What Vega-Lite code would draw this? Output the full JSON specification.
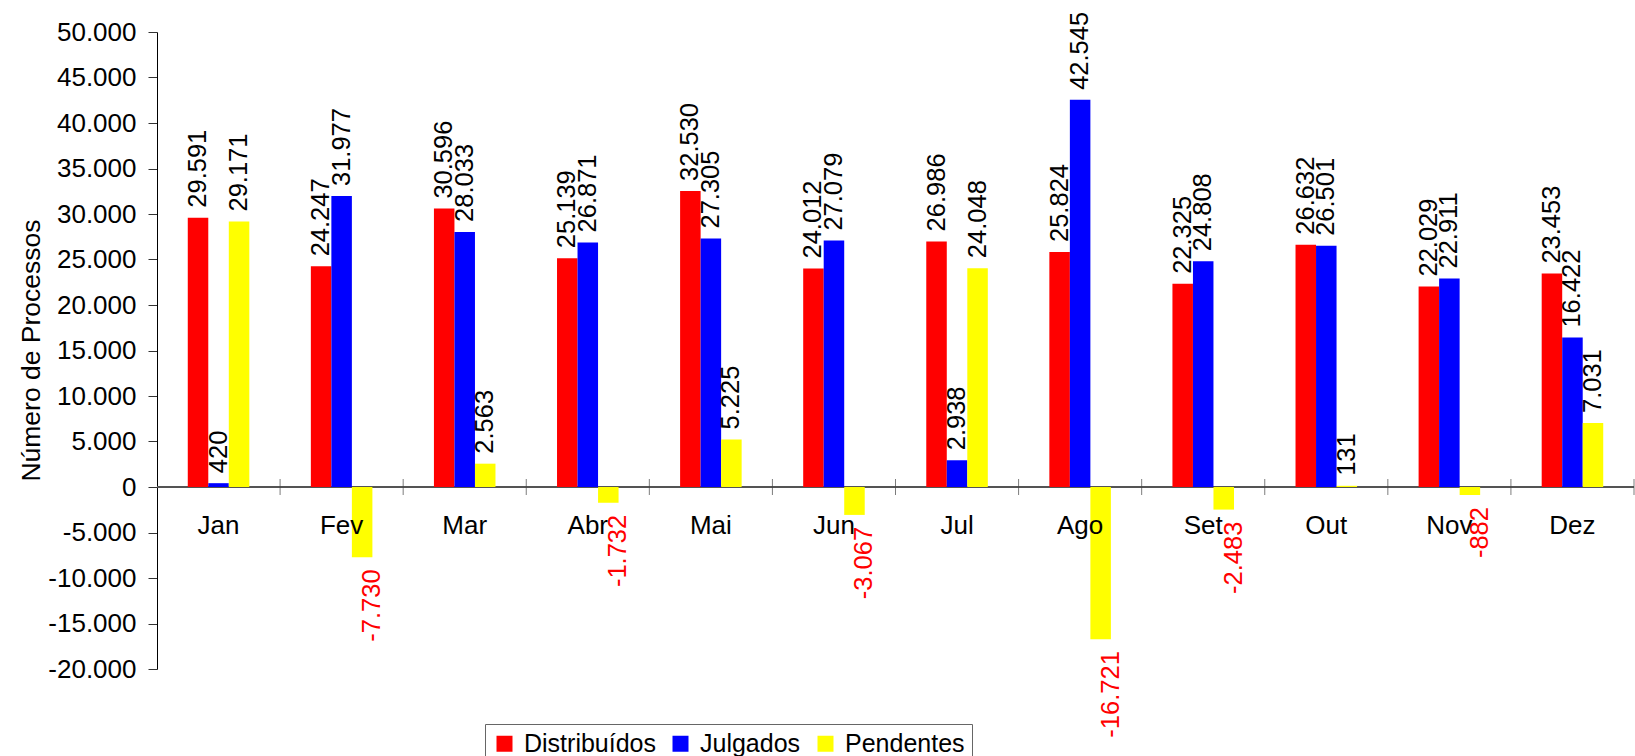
{
  "$schema": "https://vega.github.io/schema/vega-lite/v6.json",
  "width": 1477,
  "height": 637,
  "autosize": {"type": "none"},
  "padding": {"left": 157, "top": 32, "right": 1, "bottom": 87},
  "background": "white",
  "config": {
    "font": "Liberation Sans",
    "view": {"stroke": null},
    "locale": {"number": {"decimal": ",", "thousands": ".", "grouping": [3], "currency": ["", ""], "minus": "-"}}
  },
  "data": {
    "values": [
      {"month": "Jan", "series": "Distribuídos", "value": 29591},
      {"month": "Jan", "series": "Julgados", "value": 420},
      {"month": "Jan", "series": "Pendentes", "value": 29171},
      {"month": "Fev", "series": "Distribuídos", "value": 24247},
      {"month": "Fev", "series": "Julgados", "value": 31977},
      {"month": "Fev", "series": "Pendentes", "value": -7730},
      {"month": "Mar", "series": "Distribuídos", "value": 30596},
      {"month": "Mar", "series": "Julgados", "value": 28033},
      {"month": "Mar", "series": "Pendentes", "value": 2563},
      {"month": "Abr", "series": "Distribuídos", "value": 25139},
      {"month": "Abr", "series": "Julgados", "value": 26871},
      {"month": "Abr", "series": "Pendentes", "value": -1732},
      {"month": "Mai", "series": "Distribuídos", "value": 32530},
      {"month": "Mai", "series": "Julgados", "value": 27305},
      {"month": "Mai", "series": "Pendentes", "value": 5225},
      {"month": "Jun", "series": "Distribuídos", "value": 24012},
      {"month": "Jun", "series": "Julgados", "value": 27079},
      {"month": "Jun", "series": "Pendentes", "value": -3067},
      {"month": "Jul", "series": "Distribuídos", "value": 26986},
      {"month": "Jul", "series": "Julgados", "value": 2938},
      {"month": "Jul", "series": "Pendentes", "value": 24048},
      {"month": "Ago", "series": "Distribuídos", "value": 25824},
      {"month": "Ago", "series": "Julgados", "value": 42545},
      {"month": "Ago", "series": "Pendentes", "value": -16721},
      {"month": "Set", "series": "Distribuídos", "value": 22325},
      {"month": "Set", "series": "Julgados", "value": 24808},
      {"month": "Set", "series": "Pendentes", "value": -2483},
      {"month": "Out", "series": "Distribuídos", "value": 26632},
      {"month": "Out", "series": "Julgados", "value": 26501},
      {"month": "Out", "series": "Pendentes", "value": 131},
      {"month": "Nov", "series": "Distribuídos", "value": 22029},
      {"month": "Nov", "series": "Julgados", "value": 22911},
      {"month": "Nov", "series": "Pendentes", "value": -882},
      {"month": "Dez", "series": "Distribuídos", "value": 23453},
      {"month": "Dez", "series": "Julgados", "value": 16422},
      {"month": "Dez", "series": "Pendentes", "value": 7031}
    ]
  },
  "layer": [
    {
      "mark": {"type": "rule", "color": "#555555", "strokeWidth": 1},
      "encoding": {"y": {"datum": 0, "type": "quantitative"}}
    },
    {
      "mark": {"type": "bar"},
      "encoding": {
        "x": {"field": "month", "type": "nominal", "sort": ["Jan","Fev","Mar","Abr","Mai","Jun","Jul","Ago","Set","Out","Nov","Dez"], "scale": {"paddingInner": 0.5, "paddingOuter": 0.25}, "axis": null},
        "xOffset": {"field": "series", "type": "nominal", "sort": ["Distribuídos","Julgados","Pendentes"]},
        "y": {
          "field": "value", "type": "quantitative",
          "scale": {"domain": [-20000, 50000], "nice": false, "zero": false},
          "axis": {
            "title": "Número de Processos",
            "values": [-20000,-15000,-10000,-5000,0,5000,10000,15000,20000,25000,30000,35000,40000,45000,50000],
            "format": ",d",
            "grid": false,
            "domainColor": "black",
            "tickColor": "#333333",
            "tickSize": 9,
            "labelFontSize": 26,
            "labelPadding": 12,
            "labelColor": "black",
            "titleFontSize": 26.5,
            "titleFontWeight": "normal",
            "titleColor": "black",
            "titleX": -126,
            "titleY": 318,
            "titleAlign": "center",
            "titleBaseline": "middle",
            "titleAngle": 270
          }
        },
        "color": {
          "field": "series", "type": "nominal",
          "scale": {"domain": ["Distribuídos","Julgados","Pendentes"], "range": ["#FF0000","#0000FF","#FFFF00"]},
          "legend": {
            "orient": "none", "legendX": 328, "legendY": 692, "direction": "horizontal",
            "title": null, "strokeColor": "#666666", "fillColor": "white", "padding": 7,
            "symbolType": "square", "symbolSize": 256, "symbolStrokeWidth": 0, "symbolOpacity": 1,
            "labelFontSize": 25, "labelOffset": 7, "columnPadding": 12, "labelColor": "black", "labelLimit": 300
          }
        }
      }
    },
    {
      "transform": [{"filter": "datum.value >= 0"}],
      "mark": {"type": "text", "angle": 270, "align": "left", "baseline": "middle", "dx": 10, "fontSize": 25.5, "color": "black"},
      "encoding": {
        "x": {"field": "month", "type": "nominal", "sort": ["Jan","Fev","Mar","Abr","Mai","Jun","Jul","Ago","Set","Out","Nov","Dez"]},
        "xOffset": {"field": "series", "type": "nominal", "sort": ["Distribuídos","Julgados","Pendentes"]},
        "y": {"field": "value", "type": "quantitative"},
        "text": {"field": "value", "type": "quantitative", "format": ",d"}
      }
    },
    {
      "transform": [{"filter": "datum.value < 0"}],
      "mark": {"type": "text", "angle": 270, "align": "right", "baseline": "middle", "dx": -12, "dy": 10, "fontSize": 25.5, "color": "#FF0000"},
      "encoding": {
        "x": {"field": "month", "type": "nominal", "sort": ["Jan","Fev","Mar","Abr","Mai","Jun","Jul","Ago","Set","Out","Nov","Dez"]},
        "xOffset": {"field": "series", "type": "nominal", "sort": ["Distribuídos","Julgados","Pendentes"]},
        "y": {"field": "value", "type": "quantitative"},
        "text": {"field": "value", "type": "quantitative", "format": ",d"}
      }
    },
    {
      "transform": [{"filter": "datum.series == 'Distribuídos'"}],
      "mark": {"type": "text", "baseline": "alphabetic", "align": "center", "dy": 47, "fontSize": 26, "color": "black"},
      "encoding": {
        "x": {"field": "month", "type": "nominal", "sort": ["Jan","Fev","Mar","Abr","Mai","Jun","Jul","Ago","Set","Out","Nov","Dez"]},
        "y": {"datum": 0, "type": "quantitative"},
        "text": {"field": "month", "type": "nominal"}
      }
    },
    {
      "transform": [{"filter": "datum.series == 'Distribuídos'"}],
      "mark": {"type": "tick", "orient": "vertical", "size": 16, "thickness": 1, "color": "#444444"},
      "encoding": {
        "x": {"field": "month", "type": "nominal", "bandPosition": 1.5, "sort": ["Jan","Fev","Mar","Abr","Mai","Jun","Jul","Ago","Set","Out","Nov","Dez"]},
        "y": {"datum": 0, "type": "quantitative"}
      }
    }
  ]
}
